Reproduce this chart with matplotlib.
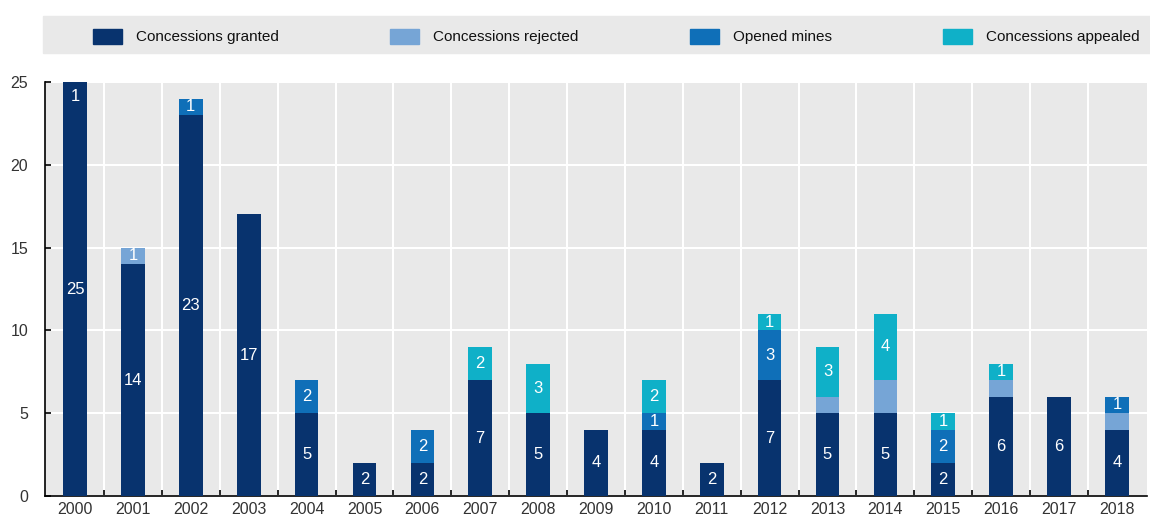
import numpy as np
import matplotlib.pyplot as plt
from matplotlib.patches import Rectangle

years = [str(y) for y in range(2000, 2019)]
granted = [25, 14, 23, 17, 5, 2, 2, 7, 5, 4, 4, 2, 7, 5, 5, 2, 6, 6, 4]
rejected = [0, 1, 0, 0, 0, 0, 0, 0, 0, 0, 0, 0, 0, 1, 2, 0, 1, 0, 1]
opened = [1, 0, 1, 0, 2, 0, 2, 0, 0, 0, 1, 0, 3, 0, 0, 2, 0, 0, 1]
appealed = [0, 0, 0, 0, 0, 0, 0, 2, 3, 0, 2, 0, 1, 3, 4, 1, 1, 0, 0]

series_names = ["Concessions granted", "Concessions rejected", "Opened mines", "Concessions appealed"]
colors = ["#08336e", "#76a5d6", "#0f6fb8", "#0fb0c8"]
# rejected segments of these years carry no label in the original
unlabelled_rejected = ["2013", "2014", "2016", "2018"]

plt.rcParams["font.family"] = ["Liberation Sans", "DejaVu Sans"]

W, H = 1150, 516
fig = plt.figure(figsize=(W / 100, H / 100), dpi=100)
ax = fig.add_axes([45 / W, 20 / H, 1102 / W, 414 / H])
ax.set_facecolor("#e9e9e9")

x = np.arange(len(years))
ymax = 25
bottom = np.zeros(len(years))
for k, vals in enumerate([granted, rejected, opened, appealed]):
    vals = np.array(vals, dtype=float)
    ax.bar(x, vals, 0.41, bottom=bottom, color=colors[k], zorder=3)
    for i, v in enumerate(vals):
        if v <= 0:
            continue
        if k == 1 and years[i] in unlabelled_rejected:
            continue
        # segment above the axis top gets its label pulled inside
        yc = min(bottom[i] + v / 2, ymax - 0.9)
        ax.text(x[i], yc, f"{int(v)}", ha="center", va="center", color="white",
                fontsize=12, zorder=4)
    bottom += vals

ax.set_xlim(-0.52, len(years) - 0.48)
ax.set_ylim(0, ymax)
ax.set_yticks([0, 5, 10, 15, 20, 25])
ax.set_xticks(x)
ax.set_xticklabels(years)
ax.set_xticks(x[:-1] + 0.5, minor=True)
ax.grid(axis="y", color="white", linewidth=1.5, zorder=1)
ax.grid(axis="x", which="minor", color="white", linewidth=1.5, zorder=1)
ax.tick_params(axis="x", which="major", length=0, labelsize=11.5, labelcolor="#333333", pad=4)
ax.tick_params(axis="x", which="minor", direction="in", length=4, width=1.2, color="black")
ax.tick_params(axis="y", direction="in", length=4, width=1.2, labelsize=11.5,
               labelcolor="#333333", pad=12)
for s in ["top", "right"]:
    ax.spines[s].set_visible(False)
ax.spines["left"].set_linewidth(1.2)
ax.spines["bottom"].set_linewidth(1.2)

# legend strip across the top
fig.patches.append(Rectangle((43 / W, 1 - 53 / H), (W - 43) / W, 37 / H,
                             transform=fig.transFigure, color="#e9e9e9", zorder=0))
leg_x = [93, 390, 690, 943]
for name, c, px in zip(series_names, colors, leg_x):
    fig.patches.append(Rectangle((px / W, 1 - 44 / H), 29 / W, 15 / H,
                                 transform=fig.transFigure, color=c, zorder=1))
    fig.text((px + 43) / W, 1 - 37 / H, name, ha="left", va="center",
             fontsize=11, color="#111111")

fig.savefig("out.png", dpi=100)
